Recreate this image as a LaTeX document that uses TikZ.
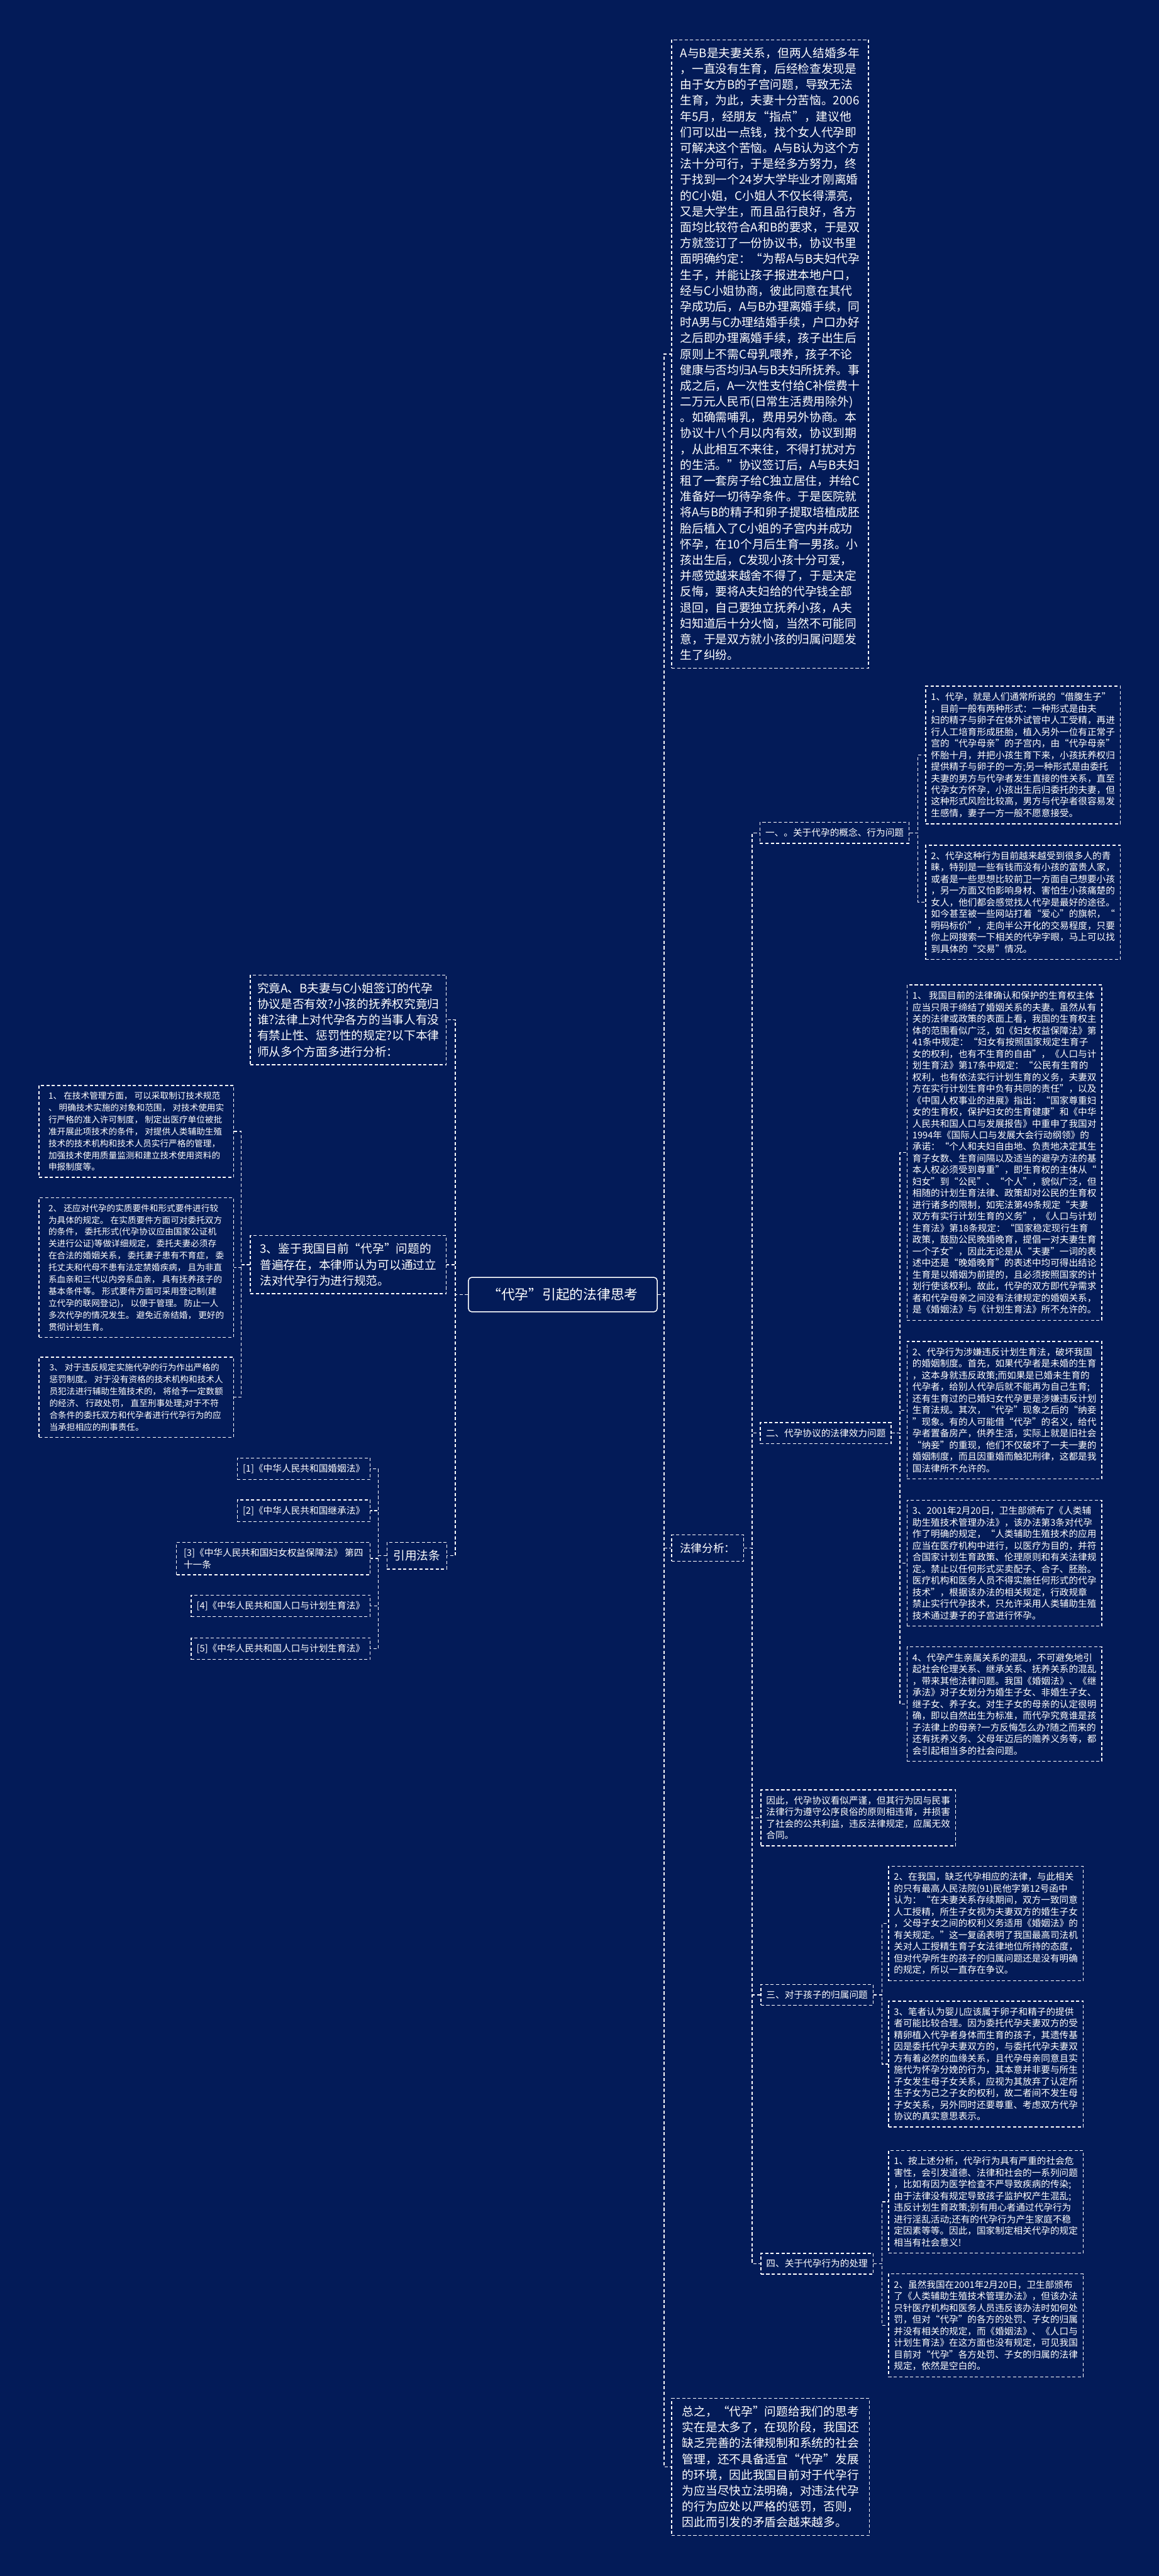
\documentclass[tikz,border=0pt]{standalone}
\usepackage{fontspec}
\setmainfont{Noto Sans CJK SC}
\usetikzlibrary{positioning}

\definecolor{bgnavy}{RGB}{3,27,88}

\begin{document}
\begin{tikzpicture}[
  every node/.style={text=white},
  dashbox/.style={draw=white, dash pattern=on 2pt off 1.4pt, line width=0.55pt,
                  align=left, inner xsep=1.2mm},
  bigbox/.style={dashbox, font=\fontsize{7.4}{9.96}\selectfont, inner ysep=1.7mm},
  txtbox/.style={dashbox, font=\fontsize{5.78}{7.31}\selectfont, inner ysep=1.4mm,
                 minimum width=4.29cm},
  rulebox/.style={dashbox, font=\fontsize{5.4}{7.47}\selectfont, inner ysep=1.4mm,
                  minimum width=4.30cm},
  tagbox/.style={dashbox, font=\fontsize{5.8}{7.3}\selectfont, inner ysep=1.35mm},
  headbox/.style={dashbox, font=\fontsize{7.0}{9}\selectfont, inner ysep=1.75mm},
  rootbox/.style={draw=white, rounded corners=2pt, line width=0.6pt,
                  font=\fontsize{8.6}{10}\selectfont, minimum width=4.17cm,
                  minimum height=0.76cm},
  link/.style={draw=white, dash pattern=on 2pt off 1.4pt, line width=0.55pt}]

\fill[bgnavy] (0,0) rectangle (25.6,-56.91);
\useasboundingbox (0,0) rectangle (25.6,-56.91);

\node[rootbox] (root) at (12.435,-28.60) {“代孕”引起的法律思考};

% right branch
\node[bigbox, anchor=west, minimum width=4.35cm] (case) at (14.83,-7.82) {%
A与B是夫妻关系，但两人结婚多年\\，一直没有生育，后经检查发现是\\由于女方B的子宫问题，导致无法\\
生育，为此，夫妻十分苦恼。2006\\年5月，经朋友“指点”，建议他\\们可以出一点钱，找个女人代孕即\\
可解决这个苦恼。A与B认为这个方\\法十分可行，于是经多方努力，终\\于找到一个24岁大学毕业才刚离婚\\
的C小姐，C小姐人不仅长得漂亮，\\又是大学生，而且品行良好，各方\\面均比较符合A和B的要求，于是双\\
方就签订了一份协议书，协议书里\\面明确约定：“为帮A与B夫妇代孕\\生子，并能让孩子报进本地户口，\\
经与C小姐协商，彼此同意在其代\\孕成功后，A与B办理离婚手续，同\\时A男与C办理结婚手续，户口办好\\
之后即办理离婚手续，孩子出生后\\原则上不需C母乳喂养，孩子不论\\健康与否均归A与B夫妇所抚养。事\\
成之后，A一次性支付给C补偿费十\\二万元人民币(日常生活费用除外)\\。如确需哺乳，费用另外协商。本\\
协议十八个月以内有效，协议到期\\，从此相互不来往，不得打扰对方\\的生活。”协议签订后，A与B夫妇\\
租了一套房子给C独立居住，并给C\\准备好一切待孕条件。于是医院就\\将A与B的精子和卵子提取培植成胚\\
胎后植入了C小姐的子宫内并成功\\怀孕，在10个月后生育一男孩。小\\孩出生后，C发现小孩十分可爱，\\
并感觉越来越舍不得了，于是决定\\反悔，要将A夫妇给的代孕钱全部\\退回，自己要独立抚养小孩，A夫\\
妇知道后十分火恼，当然不可能同\\意，于是双方就小孩的归属问题发\\生了纠纷。};

\node[headbox, anchor=west, minimum width=1.59cm] (analysis) at (14.83,-34.20) {法律分析：};

\node[bigbox, anchor=west, minimum width=4.37cm] (summary) at (14.83,-54.50) {%
总之，“代孕”问题给我们的思考\\实在是太多了，在现阶段，我国还\\缺乏完善的法律规制和系统的社会\\
管理，还不具备适宜“代孕”发展\\的环境，因此我国目前对于代孕行\\为应当尽快立法明确，对违法代孕\\
的行为应处以严格的惩罚，否则，\\因此而引发的矛盾会越来越多。};

% sections under the analysis
\node[tagbox, anchor=west] (sec1) at (16.78,-18.40) {一、。关于代孕的概念、行为问题};
\node[tagbox, anchor=west] (sec2) at (16.79,-31.66) {二、代孕协议的法律效力问题};
\node[txtbox, anchor=west, minimum width=4.28cm] (thus) at (16.80,-40.16) {%
因此，代孕协议看似严谨，但其行为因与民事\\法律行为遵守公序良俗的原则相违背，并损害\\
了社会的公共利益，违反法律规定，应属无效\\合同。};
\node[tagbox, anchor=west, minimum width=2.45cm] (sec3) at (16.80,-44.07) {三、对于孩子的归属问题};
\node[tagbox, anchor=west, minimum width=2.45cm] (sec4) at (16.80,-50.01) {四、关于代孕行为的处理};

\node[txtbox, anchor=north west] (conceptA) at (20.44,-15.15) {%
1、代孕，就是人们通常所说的“借腹生子”\\，目前一般有两种形式：一种形式是由夫\\
妇的精子与卵子在体外试管中人工受精，再进\\行人工培育形成胚胎，植入另外一位有正常子\\
宫的“代孕母亲”的子宫内，由“代孕母亲”\\怀胎十月，并把小孩生育下来，小孩抚养权归\\
提供精子与卵子的一方;另一种形式是由委托\\夫妻的男方与代孕者发生直接的性关系，直至\\
代孕女方怀孕，小孩出生后归委托的夫妻，但\\这种形式风险比较高，男方与代孕者很容易发\\
生感情，妻子一方一般不愿意接受。};
\node[txtbox, below right=4.5mm and 0mm of conceptA.south west] (conceptB) {%
2、代孕这种行为目前越来越受到很多人的青\\睐，特别是一些有钱而没有小孩的富贵人家，\\
或者是一些思想比较前卫一方面自己想要小孩\\，另一方面又怕影响身材、害怕生小孩痛楚的\\
女人，他们都会感觉找人代孕是最好的途径。\\如今甚至被一些网站打着“爱心”的旗帜，“\\
明码标价”，走向半公开化的交易程度，只要\\你上网搜索一下相关的代孕字眼，马上可以找\\
到具体的“交易”情况。};

\node[txtbox, anchor=north west] (validA) at (20.03,-21.75) {%
1、 我国目前的法律确认和保护的生育权主体\\应当只限于缔结了婚姻关系的夫妻。虽然从有\\
关的法律或政策的表面上看，我国的生育权主\\体的范围看似广泛，如《妇女权益保障法》第\\
41条中规定：“妇女有按照国家规定生育子\\女的权利，也有不生育的自由”，《人口与计\\
划生育法》第17条中规定：“公民有生育的\\权利，也有依法实行计划生育的义务，夫妻双\\
方在实行计划生育中负有共同的责任”，以及\\《中国人权事业的进展》指出：“国家尊重妇\\
女的生育权，保护妇女的生育健康”和《中华\\人民共和国人口与发展报告》中重申了我国对\\
1994年《国际人口与发展大会行动纲领》的\\承诺：“个人和夫妇自由地、负责地决定其生\\
育子女数、生育间隔以及适当的避孕方法的基\\本人权必须受到尊重”，即生育权的主体从“\\
妇女”到“公民”、“个人”，貌似广泛，但\\相随的计划生育法律、政策却对公民的生育权\\
进行诸多的限制，如宪法第49条规定“夫妻\\双方有实行计划生育的义务”，《人口与计划\\
生育法》第18条规定：“国家稳定现行生育\\政策，鼓励公民晚婚晚育，提倡一对夫妻生育\\
一个子女”，因此无论是从“夫妻”一词的表\\述中还是“晚婚晚育”的表述中均可得出结论\\
生育是以婚姻为前提的，且必须按照国家的计\\划行使该权利。故此，代孕的双方即代孕需求\\
者和代孕母亲之间没有法律规定的婚姻关系，\\是《婚姻法》与《计划生育法》所不允许的。};
\node[txtbox, below right=4.5mm and 0mm of validA.south west] (validB) {%
2、代孕行为涉嫌违反计划生育法，破坏我国\\的婚姻制度。首先，如果代孕者是未婚的生育\\
，这本身就违反政策;而如果是已婚未生育的\\代孕者，给别人代孕后就不能再为自己生育;\\
还有生育过的已婚妇女代孕更是涉嫌违反计划\\生育法规。其次，“代孕”现象之后的“纳妾\\
”现象。有的人可能借“代孕”的名义，给代\\孕者置备房产，供养生活，实际上就是旧社会\\
“纳妾”的重现，他们不仅破坏了一夫一妻的\\婚姻制度，而且因重婚而触犯刑律，这都是我\\
国法律所不允许的。};
\node[txtbox, below right=4.5mm and 0mm of validB.south west] (validC) {%
3、2001年2月20日，卫生部颁布了《人类辅\\助生殖技术管理办法》，该办法第3条对代孕\\
作了明确的规定，“人类辅助生殖技术的应用\\应当在医疗机构中进行，以医疗为目的，并符\\
合国家计划生育政策、伦理原则和有关法律规\\定。禁止以任何形式买卖配子、合子、胚胎。\\
医疗机构和医务人员不得实施任何形式的代孕\\技术”，根据该办法的相关规定，行政规章\\
禁止实行代孕技术，只允许采用人类辅助生殖\\技术通过妻子的子宫进行怀孕。};
\node[txtbox, below right=4.4mm and 0mm of validC.south west] (validD) {%
4、代孕产生亲属关系的混乱，不可避免地引\\起社会伦理关系、继承关系、抚养关系的混乱\\
，带来其他法律问题。我国《婚姻法》、《继\\承法》对子女划分为婚生子女、非婚生子女、\\
继子女、养子女。对生子女的母亲的认定很明\\确，即以自然出生为标准，而代孕究竟谁是孩\\
子法律上的母亲?一方反悔怎么办?随之而来的\\还有抚养义务、父母年迈后的赡养义务等，都\\
会引起相当多的社会问题。};

\node[txtbox, anchor=north west] (custodyA) at (19.62,-41.22) {%
2、在我国，缺乏代孕相应的法律，与此相关\\的只有最高人民法院(91)民他字第12号函中\\
认为：“在夫妻关系存续期间，双方一致同意\\人工授精，所生子女视为夫妻双方的婚生子女\\
，父母子女之间的权利义务适用《婚姻法》的\\有关规定。”这一复函表明了我国最高司法机\\
关对人工授精生育子女法律地位所持的态度，\\但对代孕所生的孩子的归属问题还是没有明确\\
的规定，所以一直存在争议。};
\node[txtbox, below right=4.3mm and 0mm of custodyA.south west] (custodyB) {%
3、笔者认为婴儿应该属于卵子和精子的提供\\者可能比较合理。因为委托代孕夫妻双方的受\\
精卵植入代孕者身体而生育的孩子，其遗传基\\因是委托代孕夫妻双方的，与委托代孕夫妻双\\
方有着必然的血缘关系，且代孕母亲同意且实\\施代为怀孕分娩的行为，其本意并非要与所生\\
子女发生母子女关系，应视为其放弃了认定所\\生子女为己之子女的权利，故二者间不发生母\\
子女关系，另外同时还要尊重、考虑双方代孕\\协议的真实意思表示。};

\node[txtbox, anchor=north west] (handleA) at (19.62,-47.50) {%
1、按上述分析，代孕行为具有严重的社会危\\害性，会引发道德、法律和社会的一系列问题\\
，比如有因为医学检查不严导致疾病的传染;\\由于法律没有规定导致孩子监护权产生混乱;\\
违反计划生育政策;别有用心者通过代孕行为\\进行淫乱活动;还有的代孕行为产生家庭不稳\\
定因素等等。因此，国家制定相关代孕的规定\\相当有社会意义!};
\node[txtbox, below right=4.4mm and 0mm of handleA.south west] (handleB) {%
2、虽然我国在2001年2月20日，卫生部颁布\\了《人类辅助生殖技术管理办法》，但该办法\\
只针医疗机构和医务人员违反该办法时如何处\\罚，但对“代孕”的各方的处罚、子女的归属\\
并没有相关的规定，而《婚姻法》、《人口与\\计划生育法》在这方面也没有规定，可见我国\\
目前对“代孕”各方处罚、子女的归属的法律\\规定，依然是空白的。};

% left branch
\node[bigbox, anchor=east, minimum width=4.33cm] (ask) at (9.87,-22.53) {%
究竟A、B夫妻与C小姐签订的代孕\\协议是否有效?小孩的抚养权究竟归\\谁?法律上对代孕各方的当事人有没\\
有禁止性、惩罚性的规定?以下本律\\师从多个方面多进行分析：};
\node[bigbox, anchor=east, minimum width=4.33cm] (advice) at (9.87,-27.94) {%
3、鉴于我国目前“代孕”问题的\\普遍存在，本律师认为可以通过立\\法对代孕行为进行规范。};
\node[headbox, anchor=east, minimum width=1.32cm, font=\fontsize{7.4}{9}\selectfont] (lawrefs)
  at (9.88,-34.37) {引用法条};

\node[rulebox, anchor=north east] (ruleA) at (5.17,-23.97) {%
1、 在技术管理方面， 可以采取制订技术规范\\、 明确技术实施的对象和范围， 对技术使用实\\
行严格的准入许可制度， 制定出医疗单位被批\\准开展此项技术的条件， 对提供人类辅助生殖\\
技术的技术机构和技术人员实行严格的管理，\\加强技术使用质量监测和建立技术使用资料的\\
申报制度等。};
\node[rulebox, below left=4.3mm and 0mm of ruleA.south east] (ruleB) {%
2、 还应对代孕的实质要件和形式要件进行较\\为具体的规定。 在实质要件方面可对委托双方\\
的条件， 委托形式(代孕协议应由国家公证机\\关进行公证)等做详细规定， 委托夫妻必须存\\
在合法的婚姻关系， 委托妻子患有不育症， 委\\托丈夫和代母不患有法定禁婚疾病， 且为非直\\
系血亲和三代以内旁系血亲， 具有抚养孩子的\\基本条件等。 形式要件方面可采用登记制(建\\
立代孕的联网登记)， 以便于管理。 防止一人\\多次代孕的情况发生。 避免近亲结婚， 更好的\\
贯彻计划生育。};
\node[rulebox, below left=4.2mm and 0mm of ruleB.south east] (ruleC) {%
3、 对于违反规定实施代孕的行为作出严格的\\惩罚制度。 对于没有资格的技术机构和技术人\\
员犯法进行辅助生殖技术的， 将给予一定数额\\的经济、 行政处罚， 直至刑事处理;对于不符\\
合条件的委托双方和代孕者进行代孕行为的应\\当承担相应的刑事责任。};

\node[tagbox, anchor=north east, minimum width=2.91cm] (refA) at (8.19,-32.20) {[1]《中华人民共和国婚姻法》};
\node[tagbox, below left=4.3mm and 0mm of refA.south east, minimum width=2.91cm] (refB) {[2]《中华人民共和国继承法》};
\node[tagbox, below left=4.4mm and 0mm of refB.south east, minimum width=4.28cm] (refC)
  {[3]《中华人民共和国妇女权益保障法》 第四\\十一条};
\node[tagbox, below left=4.3mm and 0mm of refC.south east, minimum width=3.94cm] (refD) {[4]《中华人民共和国人口与计划生育法》};
\node[tagbox, below left=4.5mm and 0mm of refD.south east, minimum width=3.94cm] (refE) {[5]《中华人民共和国人口与计划生育法》};

% connectors
\foreach \kid in {case, analysis, summary}
  \draw[link] (root.east) -- ++(0.14,0) |- (\kid.west);
\foreach \kid in {ask, advice, lawrefs}
  \draw[link] (root.west) -- ++(-0.28,0) |- (\kid.east);
\foreach \kid in {sec1, sec2, thus, sec3, sec4}
  \draw[link] (analysis.east) -- ++(0.18,0) |- (\kid.west);
\foreach \a/\b in {sec1/conceptA, sec1/conceptB, sec2/validA, sec2/validB, sec2/validC,
                   sec2/validD, sec3/custodyA, sec3/custodyB, sec4/handleA, sec4/handleB}
  \draw[link] (\a.east) -- ++(0.185,0) |- (\b.west);
\foreach \kid in {ruleA, ruleB, ruleC}
  \draw[link] (advice.west) -- ++(-0.19,0) |- (\kid.east);
\foreach \kid in {refA, refB, refC, refD, refE}
  \draw[link] (lawrefs.west) -- ++(-0.18,0) |- (\kid.east);
\end{tikzpicture}
\end{document}
